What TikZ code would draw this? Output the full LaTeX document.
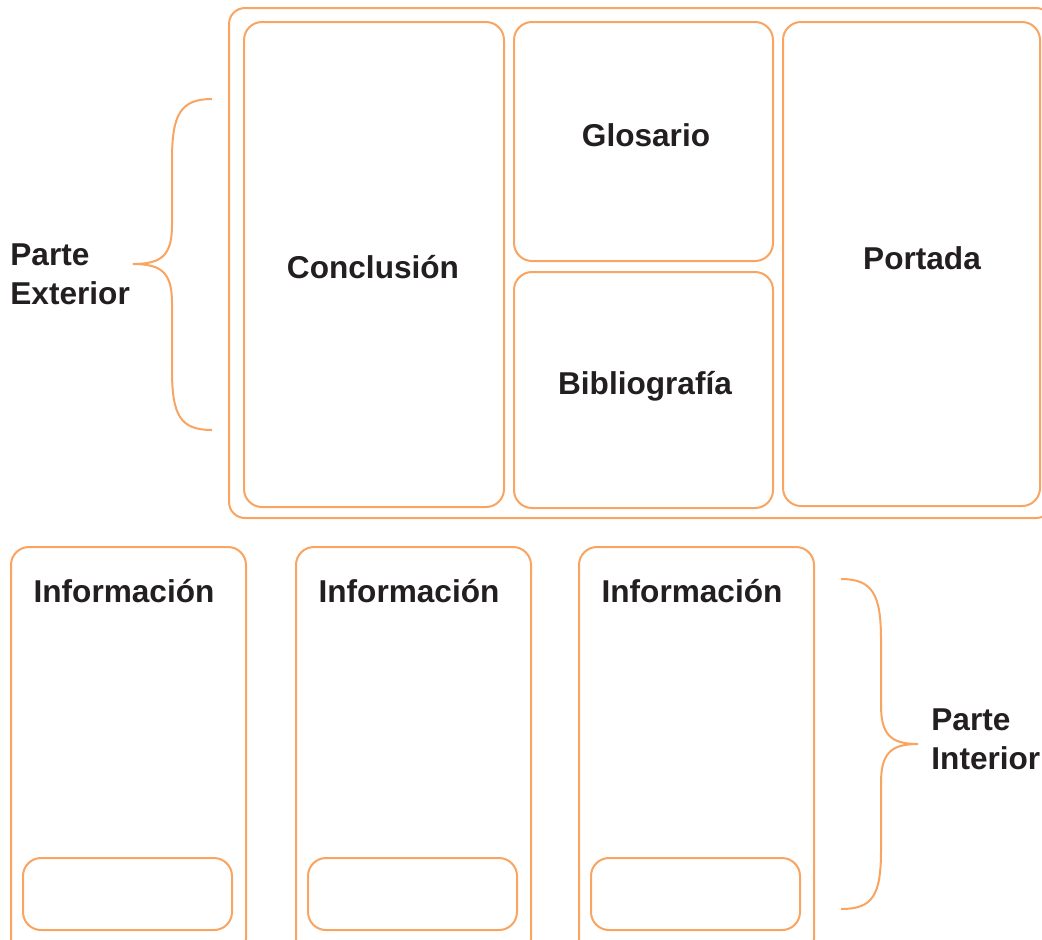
\documentclass[tikz,border=0pt]{standalone}
\usepackage{fontspec}
\setmainfont{Liberation Sans}
\usepackage{xcolor}
\usepackage{tikz}
\usetikzlibrary{calc}
\definecolor{naranja}{RGB}{249,164,96}
\definecolor{tinta}{RGB}{35,31,32}

\begin{document}
\begin{tikzpicture}[x=0.5pt, y=-0.5pt,
    caja/.style={draw=naranja, line width=1pt, rounded corners=9pt},
    llave/.style={draw=naranja, line width=1pt},
    etiqueta/.style={text=tinta, font=\fontsize{15.8}{19.5}\selectfont\bfseries, inner sep=0pt}]
  % frame: 1042 x 939 px, y downwards
  \path[use as bounding box] (0,0) rectangle (1042,939);
  \clip (0,0) rectangle (1042,939);
  % ============= Parte exterior =============
  \draw[caja, rounded corners=8pt] (229,8) rectangle (1052,518);
  \draw[caja] (244,22) rectangle (504,507);
  \draw[caja] (514,22) rectangle (773,261);
  \draw[caja] (514,272) rectangle (773,508);
  \draw[caja] (783,22) rectangle (1040,506);
  \node[etiqueta] (conclusion)   at (373,267) {Conclusión};
  \node[etiqueta] (glosario)     at (646,135) {Glosario};
  \node[etiqueta] (bibliografia) at (645,386) {Bibliografía};
  \node[etiqueta] (portada)      at (922,258) {Portada};
  % left brace
  \draw[llave]
    (212,99) .. controls (180,99) and (172,115) .. (172,160)
             -- (172,225)
             .. controls (172,255) and (162,264) .. (133,264)
             .. controls (162,264) and (172,273) .. (172,303)
             -- (172,370)
             .. controls (172,415) and (180,430) .. (212,430);
  \node[etiqueta, anchor=west, align=left] (exterior) at (10,274) {Parte\\Exterior};
  % ============= Parte interior =============
  \foreach \x/\n in {11/a, 296/b, 579/c}{
    \draw[caja] (\x,547) rectangle ++(235,410);
    \draw[caja] ($(\x,858)+(12,0)$) rectangle ++(209,72);
    \node[etiqueta] (info\n) at ($(\x,591)+(113,0)$) {Información};
  }
  % right brace
  \draw[llave]
    (841,579) .. controls (873,579) and (881,595) .. (881,640)
              -- (881,705)
              .. controls (881,735) and (891,744) .. (918,744)
              .. controls (891,744) and (881,753) .. (881,783)
              -- (881,850)
              .. controls (881,895) and (873,909) .. (841,909);
  \node[etiqueta, anchor=west, align=left] (interior) at (931,739) {Parte\\Interior};
\end{tikzpicture}
\end{document}
